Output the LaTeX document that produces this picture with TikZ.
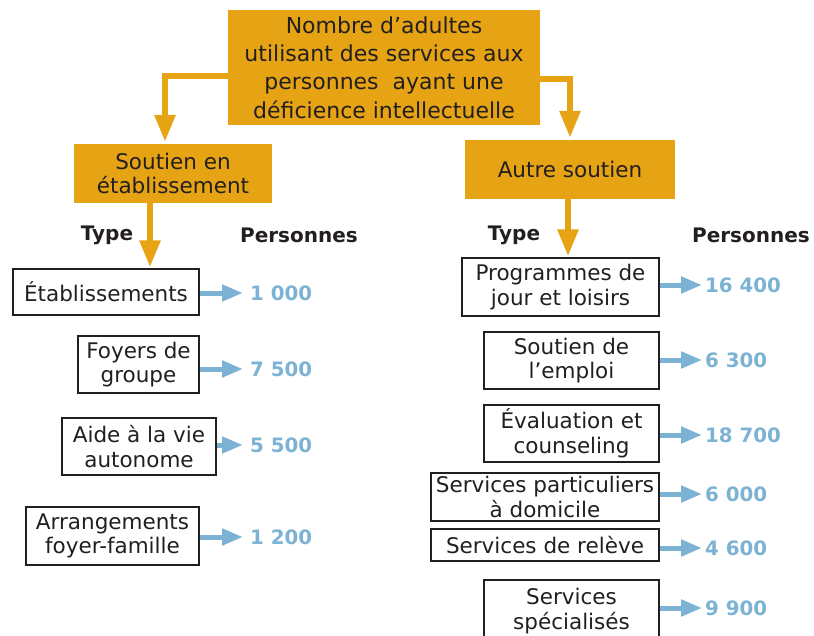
\documentclass[tikz,border=0pt]{standalone}
\usepackage{fontspec}
\setmainfont{DejaVu Sans}
\usetikzlibrary{arrows.meta}
\definecolor{orng}{HTML}{E6A414}
\definecolor{blu}{HTML}{7CB2D3}
\definecolor{ink}{HTML}{231F20}
\tikzset{
  orangebox/.style={fill=orng, inner sep=0pt, align=center, text=ink, font=\fontsize{22}{28.3}\selectfont},
  subbox/.style={orangebox, font=\fontsize{21.5}{24.5}\selectfont},
  typebox/.style={draw=ink, line width=1.5pt, fill=white, inner sep=0pt, align=center, text=ink, font=\fontsize{21.5}{24.5}\selectfont},
  numlabel/.style={font=\bfseries\fontsize{19.8}{22}\selectfont, text=blu, anchor=west, inner sep=0pt},
  headlabel/.style={font=\bfseries\fontsize{20}{22}\selectfont, text=ink, inner sep=0pt},
  orangearrow/.style={draw=orng, line width=6pt, -{Triangle[length=27pt,width=20pt]}},
  bluearrow/.style={draw=blu, line width=5pt, -{Triangle[length=21pt,width=16pt]}}
}
\begin{document}
\begin{tikzpicture}[x=1pt,y=-1pt]
\useasboundingbox (0,0) rectangle (814,635);
% top level
\node[orangebox, minimum width=312pt, minimum height=115pt] (top) at (384,67.5)
  {Nombre d’adultes\\utilisant des services aux\\personnes\ \ ayant une\\déficience intellectuelle};
\node[subbox, minimum width=198pt, minimum height=59pt] (sout) at (173,173.5)
  {Soutien en\\établissement};
\node[subbox, minimum width=210pt, minimum height=59pt] (autre) at (570,169.5)
  {Autre soutien};
% headings
\node[headlabel] (typeL) at (107,235) {Type};
\node[headlabel] (persL) at (299,235) {Personnes};
\node[headlabel] (typeR) at (514,235) {Type};
\node[headlabel] (persR) at (751,235) {Personnes};
% left boxes
\node[typebox, minimum width=186pt, minimum height=46pt] (etab) at (106,292) {Établissements};
\node[typebox, minimum width=121pt, minimum height=57pt] (foy) at (138.5,364.5) {Foyers de\\groupe};
\node[typebox, minimum width=154pt, minimum height=57pt] (aide) at (139,446.5) {Aide à la vie\\autonome};
\node[typebox, minimum width=173pt, minimum height=58pt] (arr) at (112.5,536) {Arrangements\\foyer-famille};
% right boxes
\node[typebox, minimum width=197pt, minimum height=58pt] (prog) at (560.5,287) {Programmes de\\jour et loisirs};
\node[typebox, minimum width=175pt, minimum height=57pt] (empl) at (571.5,360.5) {Soutien de\\l’emploi};
\node[typebox, minimum width=175pt, minimum height=57pt] (eval) at (571.5,433.5) {Évaluation et\\counseling};
\node[typebox, minimum width=228pt, minimum height=48pt] (part) at (545,497) {Services particuliers\\à domicile};
\node[typebox, minimum width=228pt, minimum height=32pt] (rel) at (545,545) {Services de relève};
\node[typebox, minimum width=175pt, minimum height=62pt] (spec) at (571.5,611) {Services\\spécialisés};
% numbers
\node[numlabel] (n1) at (250,293) {1 000};
\node[numlabel] (n2) at (250,369) {7 500};
\node[numlabel] (n3) at (250,445) {5 500};
\node[numlabel] (n4) at (250,537) {1 200};
\node[numlabel] (m1) at (705,285) {16 400};
\node[numlabel] (m2) at (705,360) {6 300};
\node[numlabel] (m3) at (705,435) {18 700};
\node[numlabel] (m4) at (705,494) {6 000};
\node[numlabel] (m5) at (705,548) {4 600};
\node[numlabel] (m6) at (705,608) {9 900};
% orange connectors
\draw[orangearrow] ([yshift=-8.5pt]top.west) -| ([xshift=-8pt,yshift=2pt]sout.north);
\draw[orangearrow] ([yshift=-11.5pt]top.east) -| ([yshift=2pt]autre.north);
\draw[orangearrow] ([xshift=-23pt]sout.south) coordinate (a1) -- ([yshift=1pt]a1 |- etab.north);
\draw[orangearrow] ([xshift=-2pt]autre.south) coordinate (a2) -- ([yshift=1pt]a2 |- prog.north);
% blue connectors
\draw[bluearrow] (etab.east |- n1) -- ([xshift=-7pt]n1.west);
\draw[bluearrow] (foy.east |- n2) -- ([xshift=-7pt]n2.west);
\draw[bluearrow] (aide.east |- n3) -- ([xshift=-7pt]n3.west);
\draw[bluearrow] (arr.east |- n4) -- ([xshift=-7pt]n4.west);
\draw[bluearrow] (prog.east |- m1) -- ([xshift=-3pt]m1.west);
\draw[bluearrow] (empl.east |- m2) -- ([xshift=-3pt]m2.west);
\draw[bluearrow] (eval.east |- m3) -- ([xshift=-3pt]m3.west);
\draw[bluearrow] (part.east |- m4) -- ([xshift=-3pt]m4.west);
\draw[bluearrow] (rel.east |- m5) -- ([xshift=-3pt]m5.west);
\draw[bluearrow] (spec.east |- m6) -- ([xshift=-3pt]m6.west);
\end{tikzpicture}
\end{document}
